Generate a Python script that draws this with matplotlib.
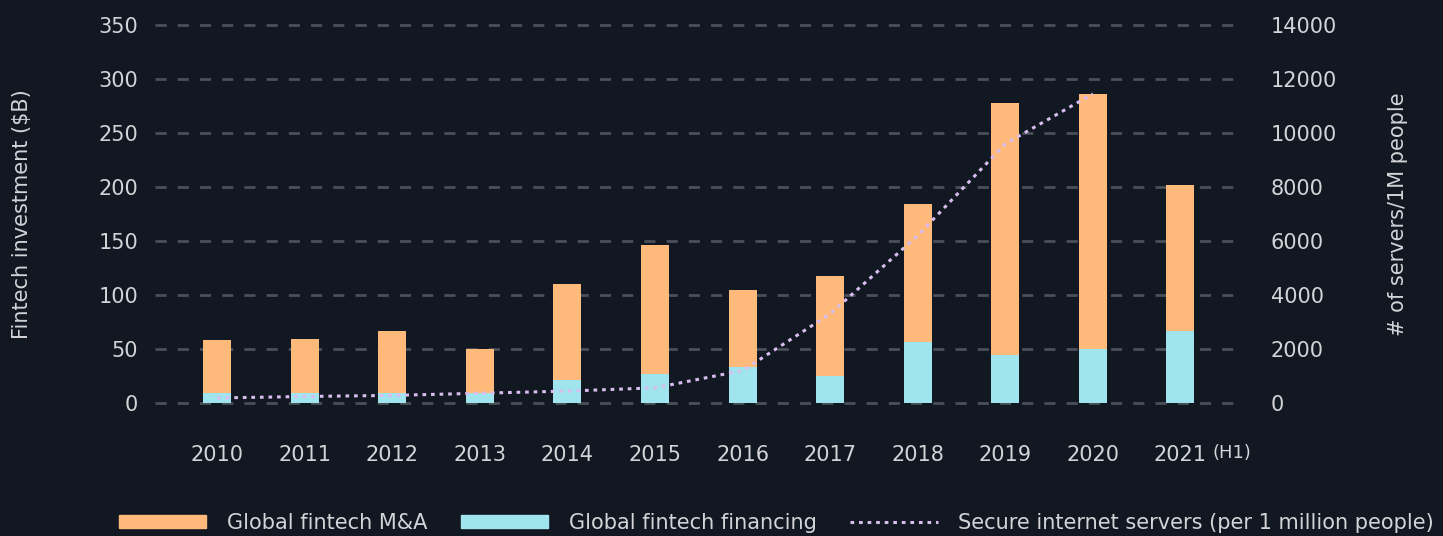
import numpy as np
import matplotlib.pyplot as plt
from matplotlib.patches import Patch
from matplotlib.lines import Line2D

# datos
years = ['2010', '2011', '2012', '2013', '2014', '2015', '2016', '2017', '2018', '2019', '2020', '2021']
financing = [9, 9, 9, 9, 21, 27, 33, 25, 56, 44, 50, 67]
ma = [49, 50, 58, 41, 89, 119, 72, 93, 128, 234, 236, 135]
server_years = years[:11]
servers = [185, 240, 280, 360, 440, 560, 1200, 3300, 6200, 9600, 11450]

bg = '#111821'
txt = '#d2d4d8'
orange = '#ffb97a'
cyan = '#a0e5ee'
lav = '#d9bdf0'
grid_c = '#4a5058'

plt.rcParams['font.family'] = ['DejaVu Sans']
fig = plt.figure(figsize=(14.43, 5.36), dpi=100, facecolor=bg)
ax = fig.add_axes([155 / 1443, 1 - 406.2 / 536, 1085 / 1443, 384.4 / 536])
ax.set_facecolor(bg)

x = np.arange(len(years))
ax.bar(x, financing, width=0.32, color=cyan, zorder=3)
ax.bar(x, ma, width=0.32, bottom=financing, color=orange, zorder=3)

ax.set_xlim(-0.71, 11.68)
ax.set_ylim(-3, 353)
ax.set_yticks(range(0, 351, 50))
ax.grid(axis='y', color=grid_c, linestyle=(0, (4, 4)), linewidth=2, zorder=0)
ax.set_xticks(x)
ax.set_xticklabels(years)
ax.tick_params(length=0, colors=txt, labelsize=15)
ax.tick_params(axis='x', pad=28)
ax.tick_params(axis='y', pad=12)
for s in ax.spines.values():
    s.set_visible(False)
ax.set_ylabel('Fintech investment ($B)', color=txt, fontsize=15, labelpad=48)
ax.text(11.37, -46.5, '(H1)', color=txt, fontsize=13, ha='left', va='center')

ax2 = ax.twinx()
sx = np.arange(len(server_years))
ax2.plot(sx, servers, color=lav, linewidth=2.2, linestyle=(0, (1.2, 1.6)), zorder=4)
ax2.set_ylim(-3 * 40, 353 * 40)
ax2.set_yticks(range(0, 14001, 2000))
ax2.tick_params(length=0, colors=txt, labelsize=15, pad=22)
for s in ax2.spines.values():
    s.set_visible(False)
ax2.set_ylabel('# of servers/1M people', color=txt, fontsize=15, labelpad=37)

handles = [Patch(color=orange), Patch(color=cyan),
           Line2D([], [], color=lav, linewidth=2.2, linestyle=(0, (1.2, 1.6)))]
labels = ['Global fintech M&A', 'Global fintech financing', 'Secure internet servers (per 1 million people)']
leg = fig.legend(handles, labels, loc='lower center', ncol=3, frameon=False,
                 bbox_to_anchor=(0.538, -0.029), fontsize=15, handlelength=4.2,
                 handleheight=0.6, columnspacing=1.6, handletextpad=1.0)
for t in leg.get_texts():
    t.set_color(txt)

plt.savefig('out.png', dpi=100, facecolor=bg)
